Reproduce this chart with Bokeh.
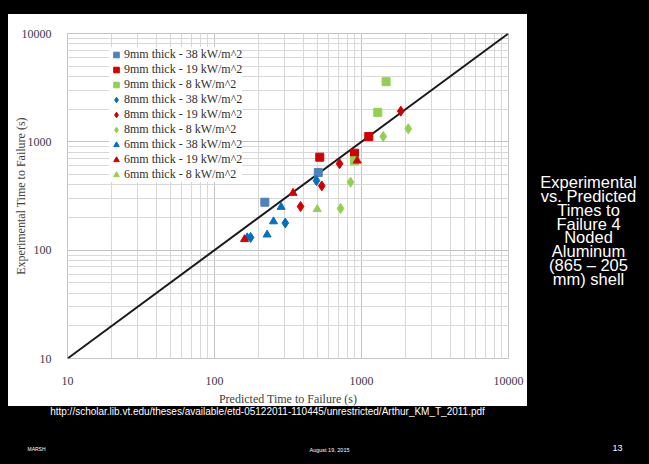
from bokeh.plotting import figure
from bokeh.models import (FixedTicker, PrintfTickFormatter, Legend, LegendItem, Label)
from bokeh.embed import file_html
from bokeh.resources import INLINE

# ---------------- data ----------------
major_ticks = [10, 100, 1000, 10000]
ref_line_x = [10, 10000]
ref_line_y = [10, 10000]

s9_38_x = [220, 508]
s9_38_y = [277, 520]
s9_19_x = [520, 896, 1121]
s9_19_y = [722, 786, 1121]
s9_8_x = [1470, 1290, 896]
s9_8_y = [3590, 1870, 669]

s8_38_x = [494, 303, 176]
s8_38_y = [438, 178, 131]
s8_19_x = [1850, 709, 537, 385]
s8_19_y = [1920, 628, 392, 253]
s8_8_x = [2080, 1405, 842, 720]
s8_8_y = [1320, 1121, 424, 243]

s6_38_x = [284, 252, 228, 167]
s6_38_y = [250, 184, 139, 131]
s6_19_x = [935, 342, 160]
s6_19_y = [669, 337, 126]
s6_8_x = [500]
s6_8_y = [239]

series_labels = ["9mm thick - 38 kW/m^2", "9mm thick - 19 kW/m^2", "9mm thick - 8 kW/m^2",
                 "8mm thick - 38 kW/m^2", "8mm thick - 19 kW/m^2", "8mm thick - 8 kW/m^2",
                 "6mm thick - 38 kW/m^2", "6mm thick - 19 kW/m^2", "6mm thick - 8 kW/m^2"]

x_title = "Predicted Time to Failure (s)"
y_title = "Experimental Time to Failure (s)"
side_text_lines = ["Experimental", "vs. Predicted", "Times to", "Failure 4",
                   "Noded", "Aluminum", "(865 \u2013 205", "mm) shell"]
url_text = "http://scholar.lib.vt.edu/theses/available/etd-05122011-110445/unrestricted/Arthur_KM_T_2011.pdf"
footer_left = "MARSH"
footer_mid = "August 19, 2015"
footer_right = "13"

# ---------------- styles ----------------
BLUE_SQ = "#4F81BD"
BLUE = "#0070C0"
RED = "#D00000"
GREEN = "#92D050"
SERIF = "Liberation Serif"
SANS = "Liberation Sans"

p = figure(width=649, height=464, x_axis_type="log", y_axis_type="log",
           x_range=(10, 10000), y_range=(10, 10000),
           output_backend="svg", toolbar_location=None,
           min_border_left=67, min_border_right=141, min_border_top=33, min_border_bottom=106,
           border_fill_color=None, background_fill_color="white",
           styles={"background": "linear-gradient(#ffffff,#ffffff) 8px 14px / 519px 392px no-repeat, #000000"})

minor = [m * d for d in major_ticks[:-1] for m in range(2, 10)]
for ax in (p.xaxis[0], p.yaxis[0]):
    ax.ticker = FixedTicker(ticks=major_ticks, minor_ticks=minor)
    ax.formatter = PrintfTickFormatter(format="%d")
    ax.axis_line_color = None
    ax.major_tick_line_color = None
    ax.minor_tick_line_color = None
    ax.major_label_text_font = SERIF
    ax.major_label_text_font_size = "12px"
    ax.major_label_text_color = "#3a3a48"
    ax.axis_label_text_font = SERIF
    ax.axis_label_text_font_size = "12px"
    ax.axis_label_text_font_style = "normal"
    ax.axis_label_text_color = "#404040"

p.xaxis.axis_label = x_title
p.yaxis.axis_label = y_title
p.xaxis.major_label_standoff = 12
p.xaxis.axis_label_standoff = 4
p.yaxis.major_label_standoff = 10
p.yaxis.axis_label_standoff = -9

for g in (p.xgrid, p.ygrid):
    g.grid_line_color = "#c4c4c4"
    g.grid_line_width = 1
    g.minor_grid_line_color = "#d8d8d8"
    g.minor_grid_line_width = 1
p.outline_line_color = "#c4c4c4"

p.line(ref_line_x, ref_line_y, line_color="#1a1a1a", line_width=2)

series = [
    (s9_38_x, s9_38_y, "square", BLUE_SQ, 8),
    (s9_19_x, s9_19_y, "square", RED, 8),
    (s9_8_x, s9_8_y, "square", GREEN, 8),
    (s8_38_x, s8_38_y, "diamond", BLUE, 10),
    (s8_19_x, s8_19_y, "diamond", RED, 10),
    (s8_8_x, s8_8_y, "diamond", GREEN, 10),
    (s6_38_x, s6_38_y, "triangle", BLUE, 8),
    (s6_19_x, s6_19_y, "triangle", RED, 8),
    (s6_8_x, s6_8_y, "triangle", GREEN, 8),
]
items = []
for (xs, ys, mk, col, sz), lab in zip(series, series_labels):
    r = p.scatter(xs, ys, marker=mk, size=sz, fill_color=col, line_color=col)
    items.append(LegendItem(label=lab, renderers=[r]))

legend = Legend(items=items, location=(42, 176), spacing=0, padding=3, margin=0,
                glyph_width=14, glyph_height=15, label_height=15, label_standoff=1,
                label_text_font=SERIF, label_text_font_size="12px", label_text_color="#303030",
                background_fill_color="white", background_fill_alpha=1.0,
                border_line_color=None)
p.add_layout(legend, "center")


# text outside the chart: labels in side panels (not clipped to the frame), canvas pixels
def lab(x, y, text, font, size, place, line_height=1.2):
    p.add_layout(Label(x=x, y=y, x_units="canvas", y_units="canvas", text=text,
                       text_font=font, text_font_size=size, text_color="white",
                       text_align="center", text_baseline="middle",
                       text_line_height=line_height), place)


lab(588, 230, "\n".join(side_text_lines), SANS, "16.5px", "right", 0.77)
lab(267, 411, url_text, SANS, "10px", "below")
lab(36, 448, footer_left, SANS, "5px", "below")
lab(329, 449, footer_mid, SANS, "5.5px", "below")
lab(617, 447, footer_right, SANS, "9px", "below")

open("out.html", "w").write(file_html(p, INLINE))
